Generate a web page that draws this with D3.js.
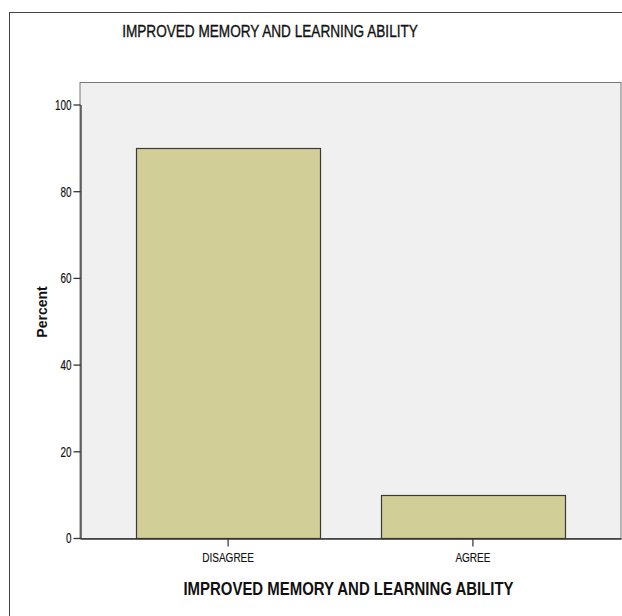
<!DOCTYPE html>
<html>
<head>
<meta charset="utf-8">
<script src="https://cdn.jsdelivr.net/npm/d3@7"></script>
<style>
  body { margin: 0; background: #fff; }
  text { font-family: "Liberation Sans", Arial, sans-serif; }
</style>
</head>
<body>
<div id="chart"></div>
<script>
const categories = ['DISAGREE', 'AGREE'];
const percents = [90, 10];
const yTicks = [0, 20, 40, 60, 80, 100];

const w = 622, h = 616;
const plot = {left: 80, right: 621, top: 82, bottom: 538};

// squeeze text horizontally to mimic a condensed face
function narrow(sel, k) {
    sel.each(function () {
        const len = this.getComputedTextLength();
        d3.select(this).attr('textLength', len * k).attr('lengthAdjust', 'spacingAndGlyphs');
    });
}

const svg = d3.select('#chart')
    .append('svg')
    .attr('width', w)
    .attr('height', h);

// outer frame
svg.append('rect')
    .attr('x', 9.5).attr('y', 12.5)
    .attr('width', 640).attr('height', 640)
    .attr('fill', 'none')
    .attr('stroke', '#444')
    .attr('stroke-width', 1);

svg.append('text')
    .attr('x', 270).attr('y', 37)
    .attr('text-anchor', 'middle')
    .style('font-size', '17px')
    .attr('fill', '#111')
    .attr('stroke', '#111')
    .attr('stroke-width', 0.35)
    .text('IMPROVED MEMORY AND LEARNING ABILITY')
    .call(narrow, 0.8);

// plot background
svg.append('rect')
    .attr('x', plot.left).attr('y', plot.top + 0.5)
    .attr('width', plot.right - plot.left).attr('height', plot.bottom - plot.top)
    .attr('fill', '#f0f0f0')
    .attr('stroke', '#777')
    .attr('stroke-width', 1);

const x = d3.scaleBand()
    .domain(categories)
    .range([plot.left, plot.right])
    .paddingInner(0.25)
    .paddingOuter(0.23);

const y = d3.scaleLinear()
    .domain([0, 100])
    .range([plot.bottom, 104.5]);

svg.append('g')
    .selectAll('rect')
    .data(categories)
    .enter()
    .append('rect')
    .attr('x', d => Math.round(x(d)) + 0.5)
    .attr('y', (d, i) => Math.round(y(percents[i])) + 0.5)
    .attr('width', Math.round(x.bandwidth()))
    .attr('height', (d, i) => Math.round(y(0)) - Math.round(y(percents[i])))
    .attr('fill', '#d2ce98')
    .attr('stroke', '#3a3a3a')
    .attr('stroke-width', 1.2);

// y axis
const yAxis = svg.append('g')
    .attr('transform', 'translate(' + (plot.left + 0.5) + ',0)')
    .call(d3.axisLeft(y).tickValues(yTicks).tickSize(7).tickPadding(2).tickSizeOuter(0));
yAxis.select('.domain').attr('stroke', '#333').attr('stroke-width', 1.3);
yAxis.selectAll('.tick line').attr('stroke', '#333').attr('stroke-width', 1.3);
yAxis.selectAll('.tick text')
    .style('font-size', '15px')
    .style('font-family', '"Liberation Sans", Arial, sans-serif')
    .attr('fill', '#111')
    .attr('stroke', '#111')
    .attr('stroke-width', 0.2)
    .call(narrow, 0.66);

// x axis
const xAxis = svg.append('g')
    .attr('transform', 'translate(0,' + (plot.bottom + 0.5) + ')')
    .call(d3.axisBottom(x).tickSize(8).tickPadding(6).tickSizeOuter(0));
xAxis.select('.domain').attr('stroke', '#333').attr('stroke-width', 1.3);
xAxis.selectAll('.tick line').attr('stroke', '#333').attr('stroke-width', 1.2);
xAxis.selectAll('.tick text')
    .style('font-size', '13px')
    .style('font-family', '"Liberation Sans", Arial, sans-serif')
    .attr('fill', '#111')
    .attr('stroke', '#111')
    .attr('stroke-width', 0.15)
    .call(narrow, 0.77);

svg.append('text')
    .attr('x', (plot.left + plot.right) / 2 - 2).attr('y', 595)
    .attr('text-anchor', 'middle')
    .style('font-size', '18px')
    .style('font-weight', 'bold')
    .attr('fill', '#111')
    .text('IMPROVED MEMORY AND LEARNING ABILITY')
    .call(narrow, 0.83);

svg.append('text')
    .attr('transform', 'translate(47,312) rotate(-90)')
    .attr('text-anchor', 'middle')
    .style('font-size', '14px')
    .style('font-weight', 'bold')
    .attr('fill', '#111')
    .text('Percent');
</script>
</body>
</html>
